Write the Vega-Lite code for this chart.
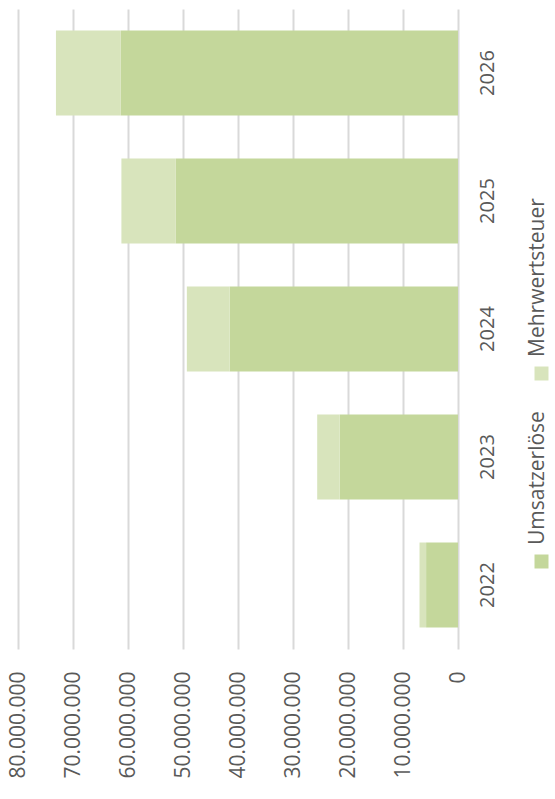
{
  "$schema": "https://vega.github.io/schema/vega-lite/v6.json",
  "width": 440,
  "height": 640,
  "autosize": {"type": "none"},
  "padding": {"left": 18, "top": 9, "right": 97, "bottom": 150},
  "background": "white",
  "data": {
    "values": [
      {"year": "2022", "series": "Umsatzerlöse", "value": 5800000},
      {"year": "2022", "series": "Mehrwertsteuer", "value": 1200000},
      {"year": "2023", "series": "Umsatzerlöse", "value": 21500000},
      {"year": "2023", "series": "Mehrwertsteuer", "value": 4100000},
      {"year": "2024", "series": "Umsatzerlöse", "value": 41500000},
      {"year": "2024", "series": "Mehrwertsteuer", "value": 7800000},
      {"year": "2025", "series": "Umsatzerlöse", "value": 51300000},
      {"year": "2025", "series": "Mehrwertsteuer", "value": 9900000},
      {"year": "2026", "series": "Umsatzerlöse", "value": 61300000},
      {"year": "2026", "series": "Mehrwertsteuer", "value": 11800000}
    ]
  },
  "mark": {"type": "bar"},
  "encoding": {
    "y": {
      "field": "year",
      "type": "nominal",
      "sort": "descending",
      "scale": {"paddingInner": 0.336, "paddingOuter": 0.168},
      "axis": {
        "orient": "right",
        "title": null,
        "domain": false,
        "ticks": false,
        "grid": false,
        "labelAngle": 270,
        "labelAlign": "center",
        "labelBaseline": "top",
        "labelPadding": 19,
        "labelFontSize": 20
      }
    },
    "x": {
      "field": "value",
      "type": "quantitative",
      "stack": "zero",
      "scale": {"domain": [0, 80000000], "reverse": true, "nice": false},
      "axis": {
        "title": null,
        "values": [0, 10000000, 20000000, 30000000, 40000000, 50000000, 60000000, 70000000, 80000000],
        "format": ",d",
        "domain": false,
        "ticks": false,
        "grid": true,
        "gridColor": "#d9d9d9",
        "gridWidth": 2,
        "labelAngle": 270,
        "labelAlign": "right",
        "labelBaseline": "middle",
        "labelPadding": 22,
        "labelFontSize": 21,
        "labelOverlap": false
      }
    },
    "color": {
      "field": "series",
      "type": "nominal",
      "scale": {"domain": ["Mehrwertsteuer", "Umsatzerlöse"], "range": ["#d8e4bc", "#c4d79b"]},
      "legend": {
        "title": null,
        "orient": "none",
        "legendX": 513,
        "legendY": 354,
        "direction": "vertical",
        "symbolType": "square",
        "symbolSize": 196,
        "symbolStrokeWidth": 0,
        "labelFontSize": 21,
        "labelColor": "#595959",
        "labelFont": "Open Sans",
        "labelLimit": 0,
        "rowPadding": 30,
        "encode": {
          "labels": {
            "update": {
              "angle": {"value": -90},
              "x": {"value": 7},
              "y": {"value": -6},
              "align": {"value": "left"},
              "baseline": {"value": "middle"}
            }
          }
        }
      }
    },
    "order": {"field": "series", "sort": "descending"}
  },
  "config": {
    "locale": {
      "number": {"decimal": ",", "thousands": ".", "grouping": [3], "currency": ["", " €"]}
    },
    "view": {"stroke": null},
    "font": "Open Sans",
    "axis": {"labelColor": "#595959", "labelFont": "Open Sans"}
  }
}
